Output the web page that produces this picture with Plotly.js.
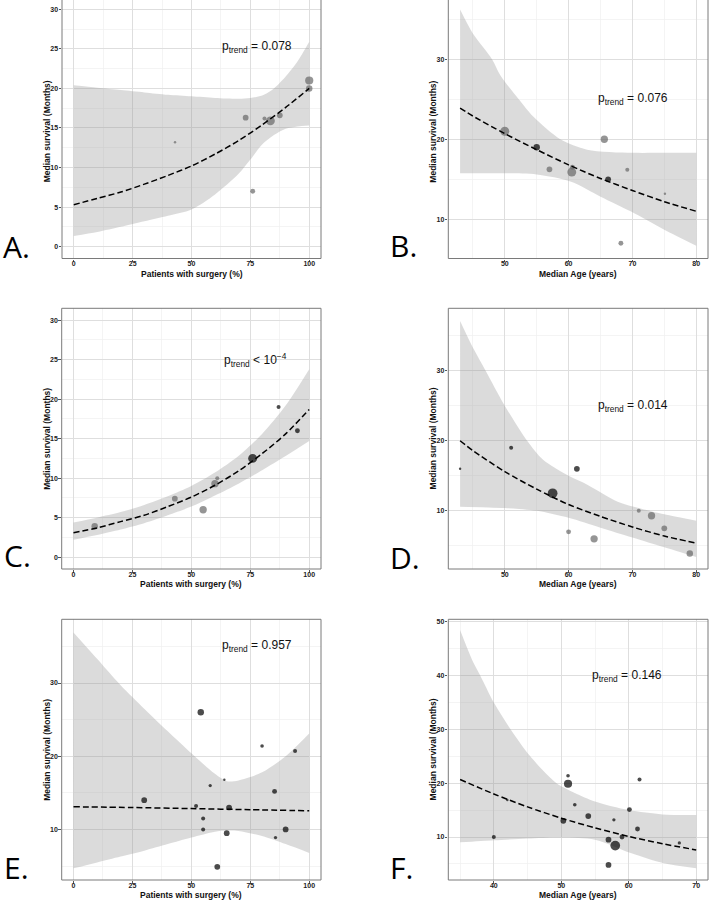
<!DOCTYPE html>
<html>
<head>
<meta charset="utf-8">
<script src="https://cdn.plot.ly/plotly-3.0.1.min.js"></script>
<style>
html,body{margin:0;padding:0;background:#ffffff;}
#chart{width:709px;height:901px;}
</style>
</head>
<body>
<div id="chart"></div>
<script>
// ---------------- Panel A: surgery % vs median survival ----------------
const aSurgery  = [43, 73, 76, 81, 83.5, 87.5, 100, 100];
const aSurvival = [13.2, 16.3, 7.0, 16.2, 15.9, 16.6, 21.0, 20.0];
const aWeight   = [2, 4.7, 4, 3.3, 7.3, 4.7, 6.7, 5.3];
const aBlack    = [0, 0, 0, 0, 0, 0, 0, 0];
const aFitX     = [0, 10, 20, 30, 40, 50, 60, 70, 80, 90, 100];
const aFit      = [5.3, 6.1, 6.9, 7.9, 9.0, 10.2, 11.7, 13.4, 15.4, 17.6, 20.0];
const aUpperX   = [0, 10, 20, 30, 40, 50, 60, 70, 75, 80, 85, 90, 95, 100];
const aUpper    = [20.4, 20.1, 19.8, 19.5, 19.2, 19.0, 18.8, 18.7, 18.8, 19.1, 20.0, 21.5, 23.4, 25.9];
const aLowerX   = [0, 10, 20, 30, 40, 50, 60, 70, 75, 80, 85, 90, 95, 100];
const aLower    = [1.35, 1.85, 2.5, 3.2, 3.9, 4.7, 6.6, 9.2, 11.0, 12.9, 14.1, 14.9, 15.2, 15.3];

// ---------------- Panel B: median age vs median survival ----------------
const bAge      = [50, 55, 57, 60.5, 60.6, 65.6, 66.2, 68.2, 69.2, 75.1];
const bSurvival = [21.0, 19.0, 16.25, 15.9, 16.5, 20.0, 15.0, 7.0, 16.2, 13.2];
const bWeight   = [7.3, 5.3, 4.7, 7.3, 4, 6, 4.7, 4, 3.3, 2];
const bBlack    = [0, 1, 0, 0, 0, 0, 1, 0, 0, 0];
const bFitX     = [43, 45, 50, 55, 60, 65, 70, 75, 80];
const bFit      = [23.9, 22.9, 20.7, 18.7, 16.8, 15.1, 13.6, 12.2, 11.0];
const bUpperX   = [43, 45, 48, 49.3, 52.2, 54.5, 58.7, 62.9, 70, 75, 80];
const bUpper    = [36.2, 33.2, 30.0, 28.0, 25.0, 22.8, 20.0, 18.7, 18.3, 18.3, 18.3];
const bLowerX   = [43, 50, 55, 60.4, 65.1, 69.8, 75, 80];
const bLower    = [15.75, 15.75, 15.6, 14.7, 12.8, 10.96, 8.7, 6.7];

// ---------------- Panel C ----------------
const cSurgery  = [9, 43, 55, 60, 61, 76, 87, 95];
const cSurvival = [3.9, 7.4, 6.0, 9.3, 10.0, 12.5, 19.0, 16.0];
const cWeight   = [5.3, 4.7, 6, 6, 3.3, 7.3, 3.3, 4];
const cBlack    = [0, 0, 0, 0, 0, 1, 1, 1];
const cFitX     = [0, 10, 20, 30, 40, 50, 60, 70, 80, 90, 100];
const cFit      = [3.1, 3.7, 4.5, 5.3, 6.4, 7.6, 9.1, 10.9, 13.1, 15.6, 18.7];
const cUpper    = [4.4, 5.0, 5.7, 6.6, 7.7, 9.0, 10.7, 12.8, 15.6, 19.2, 23.8];
const cLower    = [2.2, 2.8, 3.5, 4.3, 5.3, 6.4, 7.8, 9.3, 11.0, 12.8, 14.7];

// ---------------- Panel D ----------------
const dAge      = [43, 51, 57.5, 61.3, 60, 64, 71, 73, 75, 79];
const dSurvival = [16.0, 19.0, 12.5, 16.0, 7.0, 6.0, 10.0, 9.3, 7.5, 3.9];
const dWeight   = [2, 3.3, 8, 4.7, 4, 6, 3.3, 6, 4.7, 5.3];
const dBlack    = [1, 1, 1, 1, 0, 0, 0, 0, 0, 0];
const dFitX     = [43, 45, 50, 55, 60, 65, 70, 75, 80];
const dFit      = [20.0, 18.6, 15.6, 13.1, 10.9, 9.2, 7.7, 6.4, 5.4];
const dUpperX   = [43, 45, 47, 50, 53.5, 56, 60, 63, 67.7, 71.4, 75, 80];
const dUpper    = [37.1, 33.3, 30.0, 25.0, 20.0, 17.3, 15.0, 13.7, 11.3, 10.3, 9.5, 8.6];
const dLowerX   = [43, 50, 55, 60, 65, 70, 75, 80];
const dLower    = [10.6, 10.4, 10.0, 9.0, 7.6, 6.2, 4.8, 3.4];

// ---------------- Panel E ----------------
const eSurgery  = [30, 52, 54, 55, 55, 58, 61, 64, 65, 66, 80, 85.3, 85.7, 90, 94];
const eSurvival = [14.0, 13.2, 26.0, 11.5, 10.0, 16.0, 4.9, 16.8, 9.5, 13.0, 21.4, 15.2, 8.9, 10.0, 20.7];
const eWeight   = [4.7, 3.3, 5.3, 3.3, 3.3, 2.7, 4.7, 2, 4.7, 4.7, 3, 4, 2.7, 4.7, 3.3];
const eBlack    = [1, 1, 1, 1, 1, 1, 1, 1, 1, 1, 1, 1, 1, 1, 1];
const eFitX     = [0, 25, 50, 75, 100];
const eFit      = [13.1, 13.0, 12.85, 12.7, 12.55];
const eBandX    = [0, 10, 20, 30, 40, 50, 60, 65, 70, 80, 90, 100];
const eUpper    = [36.9, 33.3, 29.7, 26.5, 23.4, 20.4, 17.6, 16.6, 16.7, 17.8, 20.0, 23.1];
const eLower    = [4.7, 5.5, 6.3, 7.1, 8.0, 8.9, 9.7, 9.85, 9.8, 9.1, 8.0, 6.8];

// ---------------- Panel F ----------------
const fAge      = [40, 42, 50.3, 51, 51, 52, 54, 57, 57, 57.8, 58, 59, 60.1, 61.3, 61.6, 67.5];
const fSurvival = [10.0, 16.9, 13.0, 21.4, 19.9, 16.0, 13.9, 9.5, 4.8, 13.2, 8.4, 10.0, 15.1, 11.5, 20.7, 8.9];
const fWeight   = [3.3, 2, 4.7, 3, 6.7, 3, 4.7, 4.7, 4.7, 2.7, 8, 4, 4, 4, 3.3, 2.7];
const fBlack    = [1, 1, 1, 1, 1, 1, 1, 1, 1, 1, 1, 1, 1, 1, 1, 1];
const fFitX     = [35, 40, 45, 50, 55, 60, 65, 70];
const fFit      = [20.7, 18.0, 15.6, 13.5, 11.7, 10.1, 8.75, 7.6];
const fUpperX   = [35, 36.8, 38, 40, 42.5, 45.4, 49.3, 52, 55, 60, 65, 70];
const fUpper    = [48.5, 42.9, 40.0, 35.0, 30.0, 25.0, 20.0, 18.2, 16.6, 15.0, 14.2, 14.1];
const fLowerX   = [35, 40, 45, 50, 55, 60.3, 65.2, 70];
const fLower    = [9.0, 9.4, 9.7, 9.9, 9.5, 7.0, 5.1, 4.2];

const pLabels = ['p<sub>trend</sub> = 0.078', 'p<sub>trend</sub> = 0.076', 'p<sub>trend</sub> &lt; 10<sup>−4</sup>',
                 'p<sub>trend</sub> = 0.014', 'p<sub>trend</sub> = 0.957', 'p<sub>trend</sub> = 0.146'];
const panelLetters = ['A.', 'B.', 'C.', 'D.', 'E.', 'F.'];
const xTitleSurgery = 'Patients with surgery (%)';
const xTitleAge = 'Median Age (years)';
const yTitle = 'Median survival (Months)';

// ---------------- layout helpers ----------------
const W = 709, H = 901;
const GREY = '#686868', BLACK = '#000000';
const FONT = 'Liberation Sans, Arial, sans-serif';

const panels = [
  {xs:aSurgery, ys:aSurvival, w:aWeight, k:aBlack, fx:aFitX, fy:aFit, ux:aUpperX, up:aUpper, lox:aLowerX, lo:aLower,
   box:{l:62, r:321, t:0, b:258.5}, xr:[-5,105], yr:[-1.5,31.18], xd:25, xm:12.5, yd:5, ym:2.5,
   xt:xTitleSurgery, p:pLabels[0], px:78, py:25.2, L:panelLetters[0], Lx:1, Ly:246, clipTop:true},
  {xs:bAge, ys:bSurvival, w:bWeight, k:bBlack, fx:bFitX, fy:bFit, ux:bUpperX, up:bUpper, lox:bLowerX, lo:bLower,
   box:{l:448.3, r:708, t:0, b:258.5}, xr:[41.15,81.85], yr:[5.1,37.4], xd:10, xm:5, yd:10, ym:5,
   xt:xTitleAge, p:pLabels[1], px:70.1, py:25.0, L:panelLetters[1], Lx:388, Ly:245, clipTop:true},
  {xs:cSurgery, ys:cSurvival, w:cWeight, k:cBlack, fx:cFitX, fy:cFit, ux:cFitX, up:cUpper, lox:cFitX, lo:cLower,
   box:{l:61.7, r:321, t:308.3, b:569}, xr:[-5,105], yr:[-1.5,31.5], xd:25, xm:12.5, yd:5, ym:2.5,
   xt:xTitleSurgery, p:pLabels[2], px:77, py:24.9, L:panelLetters[2], Lx:2, Ly:555},
  {xs:dAge, ys:dSurvival, w:dWeight, k:dBlack, fx:dFitX, fy:dFit, ux:dUpperX, up:dUpper, lox:dLowerX, lo:dLower,
   box:{l:448.3, r:708, t:308.3, b:569}, xr:[41.15,81.85], yr:[1.7,38.9], xd:10, xm:5, yd:10, ym:5,
   xt:xTitleAge, p:pLabels[3], px:70.1, py:25.0, L:panelLetters[3], Lx:388, Ly:557},
  {xs:eSurgery, ys:eSurvival, w:eWeight, k:eBlack, fx:eFitX, fy:eFit, ux:eBandX, up:eUpper, lox:eBandX, lo:eLower,
   box:{l:61.7, r:321, t:619.3, b:880}, xr:[-5,105], yr:[3.1,38.7], xd:25, xm:12.5, yd:10, ym:5,
   xt:xTitleSurgery, p:pLabels[4], px:78, py:35.0, L:panelLetters[4], Lx:2, Ly:867},
  {xs:fAge, ys:fSurvival, w:fWeight, k:fBlack, fx:fFitX, fy:fFit, ux:fUpperX, up:fUpper, lox:fLowerX, lo:fLower,
   box:{l:448.3, r:708, t:619.3, b:880}, xr:[33.25,71.75], yr:[2.0,50.5], xd:10, xm:5, yd:10, ym:5,
   xt:xTitleAge, p:pLabels[5], px:59.7, py:40.0, L:panelLetters[5], Lx:388, Ly:867}
];

const traces = [];
const layout = {
  width: W, height: H,
  margin: {l:0, r:0, t:0, b:0},
  paper_bgcolor: '#ffffff', plot_bgcolor: '#ffffff',
  showlegend: false,
  font: {family: FONT, color: '#111'},
  annotations: [], shapes: []
};

function axisBase(dom, range, dtick, mdtick, anchor, standoff) {
  return {
    domain: dom, range: range, dtick: dtick, tick0: 0, anchor: anchor,
    showgrid: true, gridcolor: '#dedede', gridwidth: 1,
    minor: {dtick: mdtick, tick0: 0, showgrid: true, gridcolor: '#efefef', gridwidth: 0.7},
    zeroline: false, showline: false,
    ticks: 'outside', ticklen: 2.5, tickwidth: 1, tickcolor: '#555',
    ticklabelstandoff: standoff,
    tickfont: {family: FONT, size: 7, color: '#222', weight: 'bold'},
    fixedrange: true
  };
}

panels.forEach((P, i) => {
  const n = i === 0 ? '' : String(i + 1);
  const xa = 'x' + n, ya = 'y' + n;
  const xd = [P.box.l / W, P.box.r / W];
  const yd = [1 - P.box.b / H, Math.min(1, 1 - P.box.t / H)];
  layout['xaxis' + n] = axisBase(xd, P.xr, P.xd, P.xm, ya, -4);
  layout['yaxis' + n] = axisBase(yd, P.yr, P.yd, P.ym, xa, -1);

  // confidence band: lower (invisible) then upper filled to it
  traces.push({type:'scatter', mode:'lines', x:P.lox, y:P.lo, xaxis:xa, yaxis:ya,
    line:{width:0, shape:'spline', smoothing:0.8, color:'rgba(0,0,0,0)'}, hoverinfo:'skip'});
  traces.push({type:'scatter', mode:'lines', x:P.ux, y:P.up, xaxis:xa, yaxis:ya,
    fill:'tonexty', fillcolor:'rgba(153,153,153,0.35)',
    line:{width:0, shape:'spline', smoothing:0.8, color:'rgba(0,0,0,0)'}, hoverinfo:'skip'});
  // points
  traces.push({type:'scatter', mode:'markers', x:P.xs, y:P.ys, xaxis:xa, yaxis:ya,
    marker:{size:P.w, sizemode:'diameter', sizeref:0.82, color:P.k.map(f => f ? BLACK : GREY), line:{width:0}}});
  // fitted trend
  traces.push({type:'scatter', mode:'lines', x:P.fx, y:P.fy, xaxis:xa, yaxis:ya,
    line:{color:'#000', width:1.5, dash:'6px,3px', shape:'spline', smoothing:0.8}});

  // frame
  layout.shapes.push({type:'rect', xref:xa + ' domain', yref:ya + ' domain', x0:0, x1:1, y0:0, y1: P.clipTop ? 1.05 : 1,
    line:{color:'#7a7a7a', width:1}, fillcolor:'rgba(0,0,0,0)', layer:'above'});

  // axis titles
  layout.annotations.push({xref:xa + ' domain', yref:ya + ' domain', x:0.5, y:0, yshift:-15,
    xanchor:'center', yanchor:'middle', showarrow:false, text:P.xt,
    font:{family:FONT, size:8.5, color:'#111', weight:'bold'}});
  layout.annotations.push({xref:xa + ' domain', yref:ya + ' domain', x:0, y: P.clipTop ? 0.49 : 0.5, xshift:-15.5,
    xanchor:'center', yanchor:'middle', textangle:-90, showarrow:false, text:yTitle,
    font:{family:FONT, size:8.5, color:'#111', weight:'bold'}});
  // p-trend label
  layout.annotations.push({xref:xa, yref:ya, x:P.px, y:P.py, xanchor:'center', yanchor:'middle',
    showarrow:false, text:P.p, font:{family:FONT, size:12, color:'#111'}});
  // panel letter
  layout.annotations.push({xref:'paper', yref:'paper', x:P.Lx / W, y:1 - P.Ly / H, xanchor:'left', yanchor:'middle',
    showarrow:false, text:P.L, font:{family:'Open Sans, sans-serif', size:30, color:'#000'}});
});

Plotly.newPlot('chart', traces, layout, {displayModeBar:false, staticPlot:true});
</script>
</body>
</html>
